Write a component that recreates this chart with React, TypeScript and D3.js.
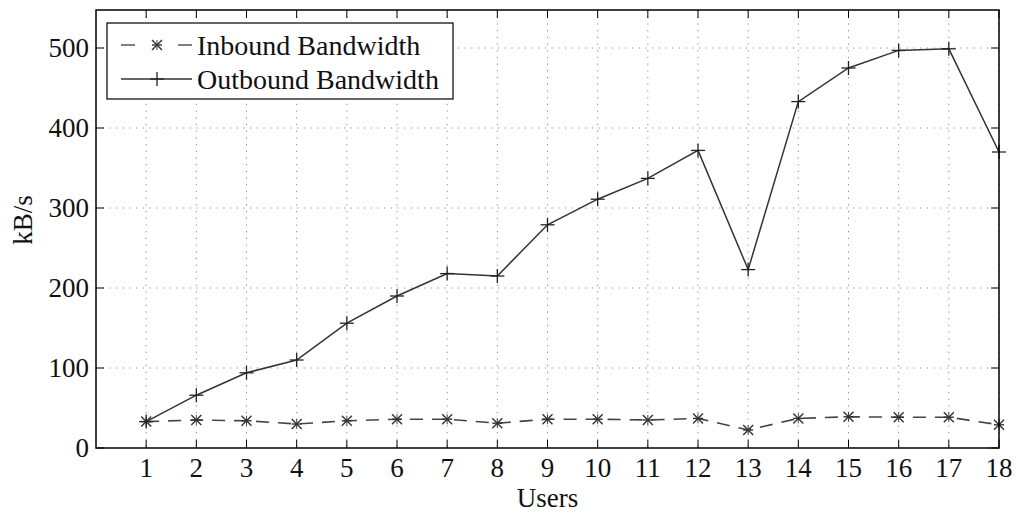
import React from "react";
import * as d3 from "d3";

const users = [1, 2, 3, 4, 5, 6, 7, 8, 9, 10, 11, 12, 13, 14, 15, 16, 17, 18];
const inbound = [33, 35, 34, 30, 34, 36, 36, 31, 36, 36, 35, 37, 22.5, 37, 39, 38.5, 38.5, 29];
const outbound = [33, 66, 94, 110, 156, 190, 218, 215, 279, 311, 337, 372, 223, 433, 475, 497, 499, 370];
const yTicks = [0, 100, 200, 300, 400, 500];
const seriesNames = ["Inbound Bandwidth", "Outbound Bandwidth"];

const W = 1016, H = 513;
const L = 96, R = 999, T = 10, B = 448;
const FONT = "'Liberation Serif', 'Times New Roman', serif";

export default function App() {
  const x = d3.scaleLinear().domain([0, 18]).range([L, R]);
  const y = d3.scaleLinear().domain([0, 547.5]).range([B, T]);
  const line = d3.line<number>().x((_, i) => x(users[i])).y((d) => y(d));
  const tick = 8;

  const star = (cx: number, cy: number, s: number, key: string) => (
    <g key={key} stroke="#333" strokeWidth={1.4}>
      <line x1={cx - s} y1={cy - s} x2={cx + s} y2={cy + s} />
      <line x1={cx - s} y1={cy + s} x2={cx + s} y2={cy - s} />
      <line x1={cx} y1={cy - s} x2={cx} y2={cy + s} strokeWidth={0.9} />
      <line x1={cx - s} y1={cy} x2={cx + s} y2={cy} />
    </g>
  );
  const plus = (cx: number, cy: number, s: number, key: string) => (
    <g key={key} stroke="#222" strokeWidth={1.3}>
      <line x1={cx - s} y1={cy} x2={cx + s} y2={cy} />
      <line x1={cx} y1={cy - s} x2={cx} y2={cy + s} />
    </g>
  );

  return (
    <svg width={W} height={H} style={{ position: "absolute", left: 0, top: 0, background: "#fff" }}>
      <rect x={0} y={0} width={W} height={H} fill="#fff" />
      {/* grid */}
      <g stroke="#888" strokeWidth={1} strokeDasharray="1.2,5.5">
        {users.map((u) => (
          <line key={"gx" + u} x1={x(u)} x2={x(u)} y1={T} y2={B} />
        ))}
        {yTicks.filter((t) => t > 0).map((t) => (
          <line key={"gy" + t} x1={L} x2={R} y1={y(t)} y2={y(t)} />
        ))}
      </g>
      {/* ticks */}
      <g stroke="#000" strokeWidth={1}>
        {users.map((u) => (
          <g key={"t" + u}>
            <line x1={x(u)} x2={x(u)} y1={B} y2={B - tick} />
            <line x1={x(u)} x2={x(u)} y1={T} y2={T + tick} />
          </g>
        ))}
        {yTicks.map((t) => (
          <g key={"ty" + t}>
            <line x1={L} x2={L + tick} y1={y(t)} y2={y(t)} />
            <line x1={R} x2={R - tick} y1={y(t)} y2={y(t)} />
          </g>
        ))}
      </g>
      {/* series */}
      <path d={line(inbound) || ""} fill="none" stroke="#444" strokeWidth={1.6} strokeDasharray="13,9" />
      <path d={line(outbound) || ""} fill="none" stroke="#333" strokeWidth={1.5} />
      {inbound.map((v, i) => star(x(users[i]), y(v), 5, "s" + i))}
      {outbound.map((v, i) => plus(x(users[i]), y(v), 7, "p" + i))}
      {/* frame */}
      <rect x={L} y={T} width={R - L} height={B - T} fill="none" stroke="#000" strokeWidth={1.5} />
      {/* tick labels */}
      <g fontFamily={FONT} fontSize={27} fill="#111">
        {users.map((u) => (
          <text key={"lx" + u} x={x(u)} y={477} textAnchor="middle">{u}</text>
        ))}
        {yTicks.map((t) => (
          <text key={"ly" + t} x={89} y={y(t)} dy="0.35em" textAnchor="end">{t}</text>
        ))}
        <text x={(L + R) / 2} y={507} textAnchor="middle">Users</text>
        <text transform={`translate(32,220) rotate(-90)`} textAnchor="middle">kB/s</text>
      </g>
      {/* legend */}
      <rect x={107} y={23} width={346} height={76} fill="#fff" stroke="#000" strokeWidth={1.2} />
      <line x1={121} x2={192} y1={45} y2={45} stroke="#555" strokeWidth={1.6} strokeDasharray="14,43" />
      {star(157, 45, 5, "ls")}
      <line x1={121} x2={192} y1={79} y2={79} stroke="#333" strokeWidth={1.5} />
      {plus(157, 79, 7, "lp")}
      <g fontFamily={FONT} fontSize={28} fill="#111">
        <text x={197} y={45} dy="0.35em">{seriesNames[0]}</text>
        <text x={197} y={79} dy="0.35em">{seriesNames[1]}</text>
      </g>
    </svg>
  );
}
